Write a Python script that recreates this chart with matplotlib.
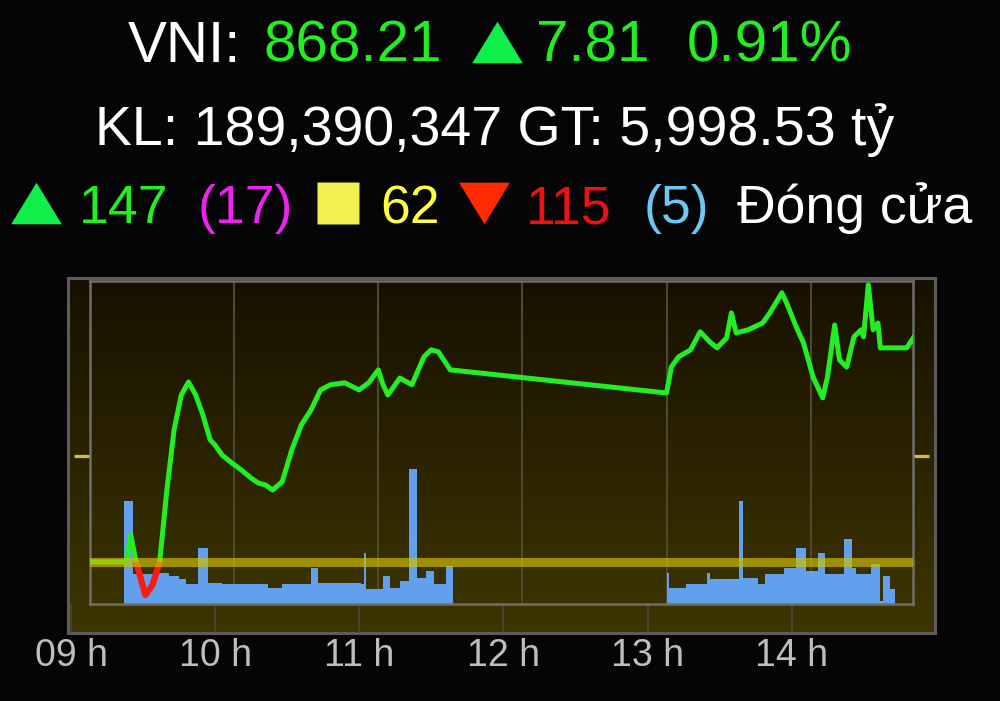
import numpy as np
import matplotlib.pyplot as plt
from matplotlib.colors import LinearSegmentedColormap
from matplotlib.patches import Rectangle
from matplotlib.transforms import ScaledTranslation

# ---- data ----
ref_price = 860.40
mark_level = 864.15

price_time = ['09:00', '09:15', '09:17', '09:19', '09:23', '09:26', '09:29', '09:32', '09:35',
              '09:38', '09:41', '09:44', '09:47', '09:50', '09:52', '09:55', '09:59', '10:03',
              '10:07', '10:10', '10:13', '10:16', '10:20', '10:24', '10:28', '10:32', '10:36',
              '10:40', '10:46', '10:52', '10:56', '11:00', '11:02', '11:04', '11:09', '11:14',
              '11:19', '11:22', '11:25', '11:30', '13:00', '13:02', '13:05', '13:10', '13:14',
              '13:18', '13:21', '13:25', '13:27', '13:29', '13:34', '13:40', '13:43', '13:48',
              '13:50', '13:54', '13:57', '14:01', '14:05', '14:07', '14:10', '14:12', '14:15',
              '14:18', '14:21', '14:22', '14:24', '14:26', '14:28', '14:29', '14:40', '14:43']
price_value = [860.40, 860.40, 861.36, 860.47, 859.23, 859.58, 860.40, 862.95, 865.08,
               866.32, 866.78, 866.32, 865.61, 864.73, 864.55, 864.19, 863.91, 863.66,
               863.38, 863.20, 863.13, 862.95, 863.24, 864.37, 865.26, 865.79, 866.50,
               866.68, 866.75, 866.50, 866.75, 867.21, 866.68, 866.32, 866.92, 866.68,
               867.67, 867.92, 867.85, 867.21, 866.39, 867.31, 867.67, 867.92, 868.56,
               868.20, 867.99, 868.34, 869.23, 868.52, 868.63, 868.87, 869.23, 869.94,
               869.58, 868.73, 868.17, 866.96, 866.22, 866.96, 868.80, 867.56, 867.31,
               868.38, 868.63, 868.38, 870.22, 868.63, 868.87, 867.99, 867.99, 868.38]

vol_am_time = ['09:14', '09:18', '09:28', '09:33', '09:37', '09:40', '09:45', '09:49', '09:55',
               '10:14', '10:20', '10:32', '10:35', '10:53', '10:54', '10:55', '11:02', '11:05',
               '11:09', '11:13', '11:16', '11:20', '11:23', '11:28', '11:31']
vol_am_value = [103, 30, 31, 28, 25, 20, 56, 21, 20,
                16, 20, 36, 21, 20, 51, 15, 28, 16,
                23, 135, 26, 33, 20, 38, 0]
vol_pm_time = ['13:00', '13:01', '13:08', '13:17', '13:18', '13:30', '13:32', '13:38', '13:41',
               '13:49', '13:54', '13:58', '14:03', '14:06', '14:14', '14:17', '14:19', '14:25',
               '14:29', '14:30', '14:33', '14:35']
vol_pm_value = [31, 16, 20, 31, 25, 103, 26, 20, 30,
                36, 56, 33, 51, 30, 65, 36, 30, 40,
                3, 28, 15, 0]

hour_ticks = [9, 10, 11, 12, 13, 14]
hour_labels = ['09 h', '10 h', '11 h', '12 h', '13 h', '14 h']

# header texts
index_name = 'VNI:'
index_close = '868.21'
index_change = '7.81'
index_pct = '0.91%'
volume_text = 'KL: 189,390,347 GT: 5,998.53 tỷ'
n_up, n_ceil, n_flat, n_down, n_floor = '147', '(17)', '62', '115', '(5)'
status_text = 'Đóng cửa'


def to_hours(hhmm):
    h, m = hhmm.split(':')
    return int(h) + int(m) / 60.0


W, H = 1000, 701


def px_rect(x0, y0, x1, y1):
    return [x0 / W, 1 - y1 / H, (x1 - x0) / W, (y1 - y0) / H]


FONT = ['Liberation Sans', 'DejaVu Sans']
GREEN = '#22ee22'
RED = '#ff1a10'

fig = plt.figure(figsize=(10, 7.01), dpi=100, facecolor='#050505')

# overlay in pixel coordinates: header and chart background
ax_o = fig.add_axes([0, 0, 1, 1], zorder=0)
ax_o.set_xlim(0, W)
ax_o.set_ylim(H, 0)
ax_o.axis('off')

grad = np.linspace(0, 1, 256).reshape(-1, 1)
cmap = LinearSegmentedColormap.from_list('bg', ['#171000', '#3e3600'])
ax_o.imshow(grad, cmap=cmap, extent=[68, 935, 633, 278], aspect='auto', zorder=0)
ax_o.add_patch(Rectangle((68, 278), 867, 355, fill=False, ec='#5c5c5c', lw=2.2, zorder=1))

# header line 1
ax_o.text(128, 62, index_name, color='white', fontsize=42, family=FONT, va='baseline')
ax_o.text(263, 62, index_close, color=GREEN, fontsize=42, family=FONT, va='baseline')
ax_o.plot(497, 42, marker=[(-1, -0.82), (1, -0.82), (0, 0.82)], ms=36.5, color='#10ee4a', mec='none')
ax_o.text(536, 62, index_change, color=GREEN, fontsize=42, family=FONT, va='baseline')
ax_o.text(687, 62, index_pct, color=GREEN, fontsize=42, family=FONT, va='baseline')

# header line 2
ax_o.text(95, 145, volume_text, color='white', fontsize=40, family=FONT, va='baseline')

# header line 3
ax_o.plot(36, 203, marker=[(-1, -0.82), (1, -0.82), (0, 0.82)], ms=36.5, color='#10ee4a', mec='none')
ax_o.text(79, 223, n_up, color=GREEN, fontsize=38.5, family=FONT, va='baseline')
ax_o.text(198, 223, n_ceil, color='#ee22ee', fontsize=38.5, family=FONT, va='baseline')
ax_o.plot(338, 203, marker='s', ms=30, color='#f0f050', mec='none')
ax_o.text(380, 223, n_flat, color='#ffff40', fontsize=38.5, family=FONT, va='baseline')
ax_o.plot(484, 203, marker=[(-1, 0.82), (1, 0.82), (0, -0.82)], ms=36.5, color='#ff2a00', mec='none')
ax_o.text(526, 223, n_down, color='#ee1111', fontsize=38.5, family=FONT, va='baseline')
ax_o.text(644, 223, n_floor, color='#6ac8f5', fontsize=38.5, family=FONT, va='baseline')
ax_o.text(737, 223, status_text, color='white', fontsize=38.5, family=FONT, va='baseline')

# ---- chart ----
rect = px_rect(90, 281, 913, 604)
t_price = np.array([to_hours(s) for s in price_time])
p_price = np.array(price_value)
xmin, xmax = 9.0, 14.71
ymin, ymax = 858.91, 870.36

# volume (behind)
ax_v = fig.add_axes(rect, zorder=1)
ax_v.set_facecolor('none')
for times, vals in [(vol_am_time, vol_am_value), (vol_pm_time, vol_pm_value)]:
    tv = [to_hours(s) for s in times]
    ax_v.fill_between(tv, vals, step='post', color='#62a0ee', lw=0, zorder=2)
ax_v.set_xlim(xmin, xmax)
ax_v.set_ylim(0, 323)
ax_v.set_xticks(hour_ticks[1:])
ax_v.set_yticks([])
ax_v.tick_params(axis='x', length=0, labelbottom=False)
ax_v.grid(axis='x', color='#4d4733', lw=1.5, zorder=1)
ax_v.set_axisbelow(True)
for s in ax_v.spines.values():
    s.set_visible(False)

# price: green line, red where it dips under the reference (after the open)
ax_p = fig.add_axes(rect, zorder=2)
ax_p.set_facecolor('none')
ax_p.plot(t_price, p_price, color=GREEN, lw=3.6, solid_joinstyle='round', zorder=3)
red_line, = ax_p.plot(t_price, p_price, color=RED, lw=4.5, solid_joinstyle='round', zorder=4)
t_open = t_price[1] + 0.02
clip = Rectangle((t_open, ymin), xmax - t_open, ref_price - ymin, transform=ax_p.transData)
red_line.set_clip_path(clip)
ax_p.axhline(ref_price, color='#d0c000', lw=6.5, alpha=0.68, zorder=5)
ax_p.set_xlim(xmin, xmax)
ax_p.set_ylim(ymin, ymax)

ax_p.set_yticks([mark_level])
ax_p.tick_params(axis='y', left=True, right=True, labelleft=False, direction='out',
                 length=11.5, width=2.3, color='#cfc52a')
ax_p.set_xticks(hour_ticks)
ax_p.set_xticklabels(hour_labels)
ax_p.tick_params(axis='x', direction='out', length=20, width=1.2, color='#4d4733',
                 pad=4.5, labelsize=27, labelcolor='#bebebe')
for lab in ax_p.get_xticklabels():
    lab.set_family(FONT)
shift = ScaledTranslation(-19 / 100, 0, fig.dpi_scale_trans)
for tick in ax_p.xaxis.get_major_ticks():
    tick.tick1line.set_transform(tick.tick1line.get_transform() + shift)
    tick.label1.set_transform(tick.label1.get_transform() + shift)
for s in ax_p.spines.values():
    s.set_color('#6e6e6e')
    s.set_linewidth(1.8)

fig.savefig('out.png', dpi=100, facecolor=fig.get_facecolor())
